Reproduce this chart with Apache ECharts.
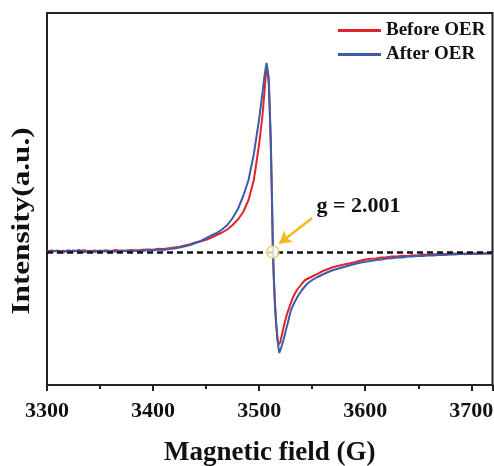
<!DOCTYPE html>
<html>
<head>
<meta charset="utf-8">
<script src="https://cdn.jsdelivr.net/npm/echarts@6/dist/echarts.min.js"></script>
<style>
html,body{margin:0;padding:0;background:#fff;}
#chart{width:494px;height:466px;}
</style>
</head>
<body>
<div id="chart"></div>
<script>
// ---- data ----
var seriesNames = ['Before OER', 'After OER'];
var xTicks = [3300, 3400, 3500, 3600, 3700];

var fieldBefore = [3300,3305,3310,3315,3320,3325,3330,3335,3340,3345,3350,3355,3360,3365,3370,3375,3380,3385,3390,3395,3400,3405,3410,3415,3420,3425,3430,3435,3440,3445,3450,3455,3460,3465,3470,3475,3480,3485,3490,3495,3500,3503,3505,3506.5,3507.5,3509,3510,3511,3512,3513,3514,3515,3516,3517,3518,3519,3520,3521,3522,3524,3526,3528.6,3532,3535.6,3540,3543.4,3550,3556,3560,3565,3570,3575,3580,3585,3590,3595,3600,3605,3610,3615,3620,3625,3630,3635,3640,3645,3650,3655,3660,3665,3670,3675,3680,3685,3690,3695,3700,3705,3710,3715,3720];
var intensityBefore = [0.8,1.6,0.6,1.2,0.2,1.5,0.8,1.8,0.6,1.4,0.4,1.7,1.0,1.9,0.9,1.6,2.0,1.3,2.2,2.6,2.3,3.2,3.0,3.8,4.4,5.2,6.5,7.8,9.6,10.8,12.2,14.5,17,19.5,22.5,27,32.5,40,52,72,108,135,160,180,183,170,140,105,55,0,-32,-55,-72,-85,-93,-94,-90,-85,-80,-71,-63,-54.7,-45,-38,-32,-28,-24.5,-21.3,-19,-17,-15,-13.8,-12.5,-11.5,-10.3,-8.8,-7.6,-6.8,-6.5,-5.6,-5.3,-4.5,-4.6,-3.8,-3.9,-3.2,-3.4,-2.6,-2.9,-2.2,-2.5,-1.9,-2.3,-1.6,-2.0,-1.5,-1.9,-1.3,-1.7,-1.2,-1.4];

var fieldAfter = [3300,3305,3310,3315,3320,3325,3330,3335,3340,3345,3350,3355,3360,3365,3370,3375,3380,3385,3390,3395,3400,3405,3410,3415,3420,3425,3430,3435,3440,3445,3450,3455,3460,3465,3470,3475,3480,3485,3490,3495,3500,3503,3505,3507,3508,3509,3510,3511,3512,3513,3514,3515,3516,3517,3518,3519,3520,3521,3522,3523,3525,3527,3530,3533,3536,3540,3545,3550,3555,3560,3565,3570,3575,3580,3585,3590,3595,3600,3605,3610,3615,3620,3625,3630,3635,3640,3645,3650,3655,3660,3665,3670,3675,3680,3685,3690,3695,3700,3705,3710,3715,3720];
var intensityAfter = [1.0,0.2,1.5,-0.5,1.8,0.4,2.0,-0.3,1.2,0.0,1.6,0.5,1.0,0.3,1.4,0.8,1.2,1.6,1.0,2.0,1.5,2.4,2.0,3.0,3.4,4.5,5.8,7.0,9.0,11.0,13.8,16.5,19.0,22.5,27,34,43,56,72,98,133,158,176,189,191,175,145,112,60,2,-30,-53,-70,-83,-94,-101,-99,-95,-91,-88,-79,-71,-58,-51,-45,-38.5,-32,-28,-25,-22.5,-20,-18,-16.5,-15,-13.5,-12,-10.8,-9.8,-9.0,-8.0,-7.6,-6.5,-6.2,-5.4,-5.6,-4.6,-4.5,-3.8,-4.0,-3.2,-3.6,-2.8,-3.0,-2.2,-2.6,-1.8,-2.2,-1.5,-2.0,-1.2,-1.6,-1.2];

var gLabel = 'g = 2.001';
var gField = 3513;   // crossing point
// ---------------------------------------

function pairs(xs, ys){ return xs.map(function(x,i){ return [x, ys[i]]; }); }

var FONT = '"Times New Roman","Liberation Serif",serif';
var RED = '#e3232c', BLUE = '#3a5ea8', GOLD = '#f3b922';

var chart = echarts.init(document.getElementById('chart'), null, {renderer:'canvas'});
var option = {
  animation: false,
  backgroundColor: '#fff',
  grid: {left: 47, top: 13, right: 1.5, bottom: 81, show: true, borderColor: '#222', borderWidth: 2,
         backgroundColor: 'transparent', containLabel: false, outerBoundsMode: 'none'},
  legend: {
    orient: 'vertical', left: 338, top: 21, itemGap: 5, padding: 0,
    itemWidth: 43, itemHeight: 3, icon: 'rect',
    textStyle: {fontFamily: FONT, fontWeight: 'bold', fontSize: 19, color: '#111', lineHeight: 18, padding: [0,0,0,0]},
    data: seriesNames
  },
  xAxis: {
    type: 'value', min: 3300, max: 3720, interval: 100,
    axisLine: {show: true, onZero: false, lineStyle: {color: '#222', width: 2}},
    axisTick: {show: true, inside: false, length: 6, lineStyle: {color: '#222', width: 2}},
    minorTick: {show: true, splitNumber: 2, length: 4, lineStyle: {color: '#222', width: 2}},
    splitLine: {show: false},
    axisLabel: {margin: 15, fontFamily: FONT, fontWeight: 'bold', fontSize: 22, color: '#111',
      formatter: function(v){ return String(v); }},
    name: 'Magnetic field (G)', nameLocation: 'middle', nameGap: 55,
    nameTextStyle: {fontFamily: FONT, fontWeight: 'bold', fontSize: 27, color: '#111'}
  },
  yAxis: {
    type: 'value', min: -133, max: 239,
    axisLine: {show: true, onZero: false, lineStyle: {color: '#222', width: 2}},
    axisTick: {show: false}, axisLabel: {show: false}, splitLine: {show: false}
  },
  series: [
    {
      name: seriesNames[0], type: 'line', data: pairs(fieldBefore, intensityBefore),
      symbol: 'none', smooth: false, lineStyle: {color: RED, width: 2}, itemStyle: {color: RED}, z: 3,
      markLine: {
        silent: true, symbol: 'none', animation: false,
        lineStyle: {color: '#111', width: 2.5, type: [6, 4]},
        label: {show: false},
        data: [{yAxis: 0}]
      }
    },
    {
      name: seriesNames[1], type: 'line', data: pairs(fieldAfter, intensityAfter),
      symbol: 'none', smooth: false, lineStyle: {color: BLUE, width: 2}, itemStyle: {color: BLUE}, z: 4,
      markLine: {
        silent: true, animation: false, symbol: ['none', 'arrow'], symbolSize: [11, 12],
        lineStyle: {color: GOLD, width: 2.5, type: 'solid'},
        label: {show: false},
        data: [[{coord: [3550, 34]}, {coord: [3519, 8.5]}]]
      }
    },
    {
      name: 'gpoint', type: 'scatter', data: [[gField, 0]], symbol: 'circle', symbolSize: 12,
      itemStyle: {color: '#fff', borderColor: '#f0c54a', borderWidth: 1.5}, z: 6, silent: true,
      label: {show: false}
    }
  ]
};
chart.setOption(option);

var p = chart.convertToPixel({gridIndex: 0}, [3554, 35]);
chart.setOption({
  graphic: [
    {type: 'text', x: 22, y: 221, rotation: Math.PI/2, scaleX: 1.2,
     style: {text: 'Intensity(a.u.)', font: 'bold 26px ' + FONT, fill: '#111', textAlign: 'center', textVerticalAlign: 'middle', align: 'center', verticalAlign: 'middle'}},
    {type: 'text', x: p[0], y: p[1],
     style: {text: gLabel, font: 'bold 22px ' + FONT, fill: '#111', textAlign: 'left', textVerticalAlign: 'bottom', align: 'left', verticalAlign: 'bottom'}}
  ]
});
</script>
</body>
</html>
